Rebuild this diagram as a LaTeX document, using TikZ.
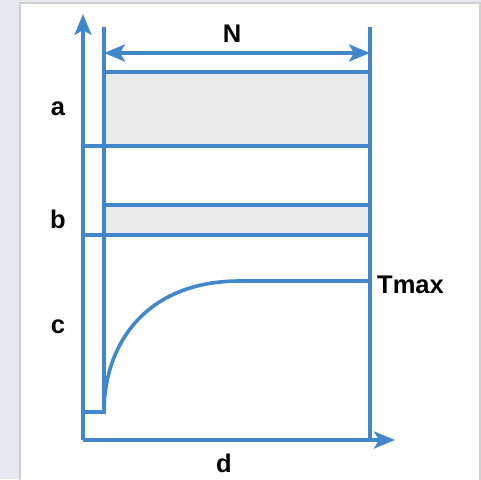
\documentclass[tikz,border=0pt]{standalone}
\usepackage{fontspec}
\setmainfont{Liberation Sans}
\usetikzlibrary{arrows.meta}
\definecolor{lineblue}{HTML}{4287C9}
\definecolor{boxgray}{HTML}{EBEBEB}
\definecolor{bgtex}{HTML}{E6E8EF}
\definecolor{panelborder}{HTML}{CFCFCF}
\begin{document}
\begin{tikzpicture}[x=1pt,y=-1pt,
  ln/.style={draw=lineblue,line width=3.6pt},
  tipstyle/.style={-{Stealth[length=21pt,width=17pt,inset=5pt]}},
  lbl/.style={font=\bfseries\fontsize{25.5}{28}\selectfont,inner sep=0pt}]
\useasboundingbox (0,0) rectangle (481,479);
\fill[bgtex] (0,0) rectangle (481,479);
\fill[white,draw=panelborder,line width=1.2pt] (20,3) rectangle (480,481);
% gray boxes
\fill[boxgray] (104,72) rectangle (370,146);
\fill[boxgray] (104,205) rectangle (370,235);
% coordinates
\coordinate (o) at (83,440);
\coordinate (ytop) at (83,14);
\coordinate (xend) at (395,440);
\coordinate (ltop) at (104,27);
\coordinate (lbot) at (104,412);
\coordinate (rtop) at (370,27);
\coordinate (rbot) at (370,440);
\coordinate (nl) at (104,53);
\coordinate (nr) at (370,53);
\coordinate (stepl) at (83,412);
\coordinate (cend) at (240,281);
\coordinate (tr) at (370,281);
% axes
\draw[ln,tipstyle] (o) -- (ytop);
\draw[ln,tipstyle] (o) -- (xend);
% verticals
\draw[ln] (ltop) -- (lbot);
\draw[ln] (rtop) -- (rbot);
% N arrow
\draw[ln,{Stealth[length=21pt,width=17pt,inset=5pt]}-{Stealth[length=21pt,width=17pt,inset=5pt]}] (nl) -- (nr);
% horizontal lines
\draw[ln] (104,72) -- (370,72);
\draw[ln] (83,146) -- (370,146);
\draw[ln] (104,205) -- (370,205);
\draw[ln] (83,235) -- (370,235);
% curve
\draw[ln,line join=miter] (stepl) -- (lbot) .. controls (104,345) and (145,281) .. (cend) -- (tr);
% labels
\node[lbl] (N) at (232,34) {N};
\node[lbl] (a) at (58,109) {a};
\node[lbl] (b) at (58,219) {b};
\node[lbl] (c) at (58,327) {c};
\node[lbl] (d) at (224,463) {d};
\node[lbl,anchor=west] (T) at (377,285) {Tmax};
\end{tikzpicture}
\end{document}
